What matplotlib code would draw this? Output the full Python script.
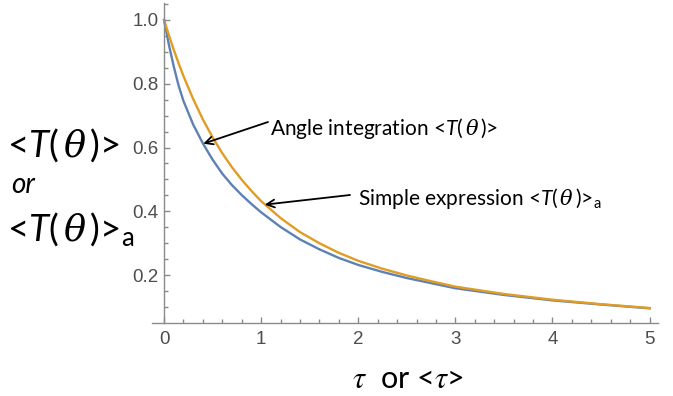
import matplotlib
matplotlib.use("Agg")
import matplotlib.pyplot as plt
from matplotlib.ticker import MultipleLocator

# values
tau = [0, 0.05, 0.1, 0.15, 0.2, 0.3, 0.4, 0.5, 0.6, 0.7, 0.8, 0.9, 1.0,
       1.2, 1.4, 1.6, 1.8, 2.0, 2.25, 2.5, 2.75, 3.0, 3.5, 4.0, 4.5, 5.0]
t_angle = [1.0, 0.922, 0.854, 0.794, 0.746, 0.672, 0.613, 0.562, 0.518, 0.482,
           0.451, 0.423, 0.397, 0.351, 0.312, 0.281, 0.254, 0.232, 0.210, 0.191,
           0.175, 0.159, 0.138, 0.121, 0.108, 0.096]
t_simple = [1.0, 0.952, 0.906, 0.864, 0.824, 0.752, 0.688, 0.632, 0.582, 0.538,
            0.499, 0.464, 0.432, 0.379, 0.335, 0.300, 0.270, 0.245, 0.220, 0.199,
            0.181, 0.164, 0.141, 0.123, 0.109, 0.097]

angle_tip = (0.404, 0.612)
simple_tip = (1.037, 0.421)

plt.rcParams['font.family'] = ['Liberation Sans', 'DejaVu Sans']
plt.rcParams['mathtext.fontset'] = 'custom'
plt.rcParams['mathtext.rm'] = 'Lato'
plt.rcParams['mathtext.it'] = 'Lato:italic'
plt.rcParams['mathtext.sf'] = 'DejaVu Serif:italic'

TT = r'<$T$($\,\mathsf{\theta}\,$)>'
SUB = r'${}_\mathrm{a}$'

W, H = 673, 396
fig = plt.figure(figsize=(W / 100, H / 100), dpi=100)
ax = fig.add_axes([152 / W, 73.3 / H, 506 / W, 319.4 / H])

ax.plot(tau, t_angle, color='#5E81B5', lw=1.7)
ax.plot(tau, t_simple, color='#E19C24', lw=1.7)

ax.set_xlim(-0.124, 5.087)
ax.set_ylim(0.051, 1.052)
ax.spines['left'].set_position(('data', 0))
ax.spines[['top', 'right']].set_visible(False)
for s in ['left', 'bottom']:
    ax.spines[s].set_color('#8a8a8a')
    ax.spines[s].set_linewidth(1.0)

ax.xaxis.set_major_locator(MultipleLocator(1))
ax.xaxis.set_minor_locator(MultipleLocator(0.2))
ax.yaxis.set_major_locator(MultipleLocator(0.2))
ax.yaxis.set_minor_locator(MultipleLocator(0.05))
ax.tick_params(which='both', direction='in', color='#8a8a8a', width=1.0)
ax.tick_params(which='major', length=4.5, labelsize=13.5, labelcolor='#4d4d4d')
ax.tick_params(which='minor', length=2.8)
ax.tick_params(axis='y', pad=4)
ax.tick_params(axis='x', pad=6)

# y label, three lines on the left
fig.text(0.010, 1 - 157 / H, TT, fontsize=26.5, family='Lato',
         ha='left', va='baseline')
fig.text(0.016, 1 - 193 / H, 'or', fontsize=20, family='Lato', style='italic',
         ha='left', va='baseline')
fig.text(0.010, 1 - 241 / H, TT + SUB, fontsize=26.5,
         family='Lato', ha='left', va='baseline')

# x label
fig.text(408 / W, 1 - 388 / H, r'$\tau$  or <$\tau$>', fontsize=22, family='Lato',
         math_fontfamily='stix', ha='center', va='baseline')

# annotations
fig.text(270 / W, 1 - 135 / H, 'Angle integration ' + TT, fontsize=15,
         family='Lato', ha='left', va='baseline')
fig.text(358 / W, 1 - 205 / H, 'Simple expression ' + TT + SUB,
         fontsize=15, family='Lato', ha='left', va='baseline')
arrow = dict(arrowstyle='->', color='black', lw=1.3, shrinkA=0, shrinkB=0,
             mutation_scale=14)
ax.annotate('', xy=angle_tip, xycoords='data', xytext=(268, H - 122),
            textcoords='figure pixels', arrowprops=arrow)
ax.annotate('', xy=simple_tip, xycoords='data', xytext=(350, H - 195),
            textcoords='figure pixels', arrowprops=arrow)

fig.savefig('out.png', dpi=100)
